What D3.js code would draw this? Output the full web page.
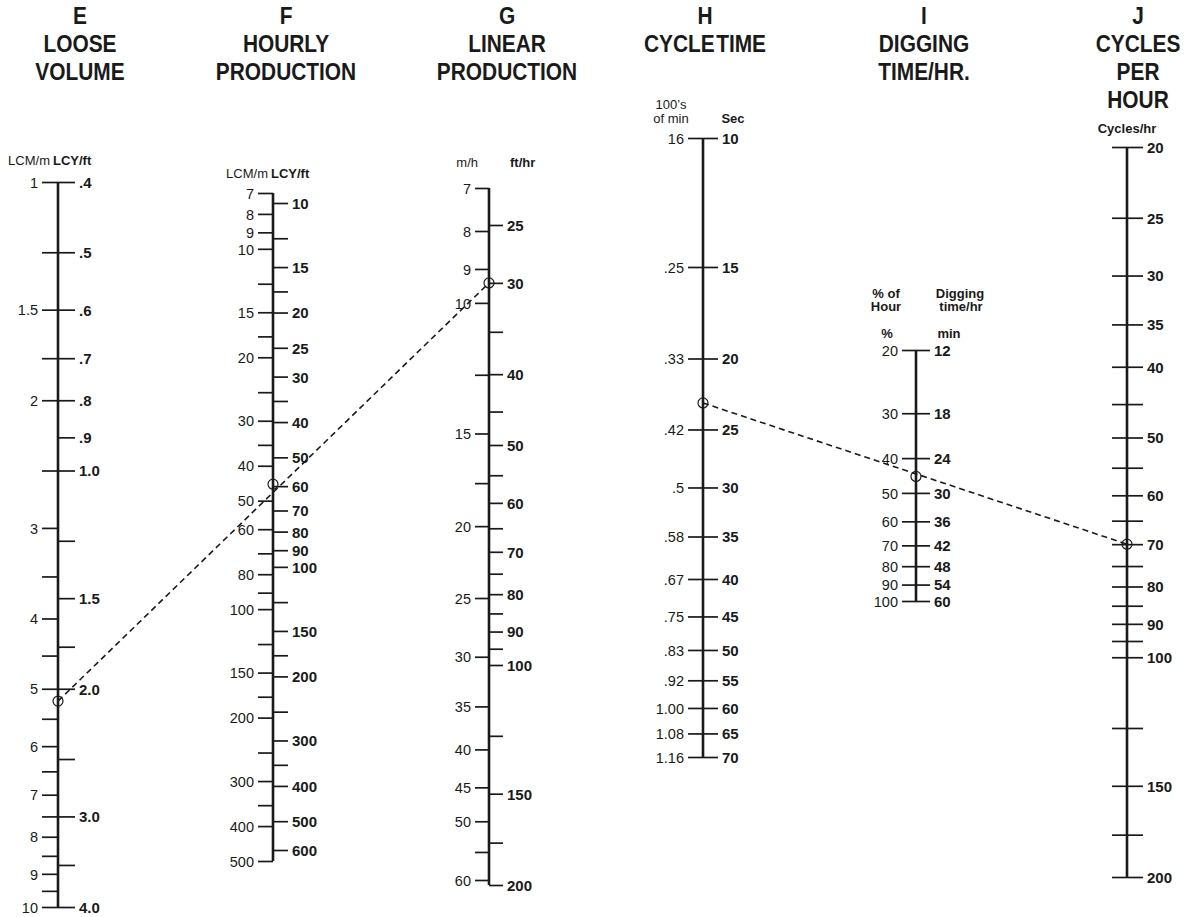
<!DOCTYPE html>
<html>
<head>
<meta charset="utf-8">
<script src="https://cdn.jsdelivr.net/npm/d3@7"></script>
<style>
  body { margin: 0; background: #fff; }
  text { fill: #1a1a1a; }
</style>
</head>
<body>
<svg id="chart" width="1185" height="917"></svg>
<script>

// ---- scale values ----

// E loose volume
const eLcmTicks = [1, 1.25, 1.5, 1.75, 2, 2.5, 3, 3.5, 4, 4.5, 5, 5.5, 6, 6.5, 7, 7.5, 8, 8.5, 9, 9.5, 10];
const eLcmLabels = ["1", "", "1.5", "", "2", "", "3", "", "4", "", "5", "", "6", "", "7", "", "8", "", "9", "", "10"];
const eLcyTicks = [0.4, 0.5, 0.6, 0.7, 0.8, 0.9, 1.0, 1.25, 1.5, 1.75, 2.0, 2.5, 3.0, 3.5, 4.0];
const eLcyLabels = [".4", ".5", ".6", ".7", ".8", ".9", "1.0", "", "1.5", "", "2.0", "", "3.0", "", "4.0"];

// F hourly production
const fLcmTicks = [7, 8, 9, 10, 12.5, 15, 17.5, 20, 25, 30, 35, 40, 50, 60, 70, 80, 90, 100, 125, 150, 175, 200, 250, 300, 350, 400, 500];
const fLcmLabels = ["7", "8", "9", "10", "", "15", "", "20", "", "30", "", "40", "50", "60", "", "80", "", "100", "", "150", "", "200", "", "300", "", "400", "500"];
const fLcyTicks = [10, 12.5, 15, 17.5, 20, 25, 30, 35, 40, 50, 60, 70, 80, 90, 100, 125, 150, 175, 200, 250, 300, 350, 400, 500, 600];
const fLcyLabels = ["10", "", "15", "", "20", "25", "30", "", "40", "50", "60", "70", "80", "90", "100", "", "150", "", "200", "", "300", "", "400", "500", "600"];

// G linear production
const gMhTicks = [7, 8, 9, 10, 12.5, 15, 17.5, 20, 25, 30, 35, 40, 45, 50, 55, 60];
const gMhLabels = ["7", "8", "9", "10", "", "15", "", "20", "25", "30", "35", "40", "45", "50", "", "60"];
const gFtTicks = [25, 30, 35, 40, 45, 50, 55, 60, 65, 70, 75, 80, 85, 90, 95, 100, 125, 150, 175, 200];
const gFtLabels = ["25", "30", "", "40", "", "50", "", "60", "", "70", "", "80", "", "90", "", "100", "", "150", "", "200"];

// H cycle time
const hSecTicks = [10, 15, 20, 25, 30, 35, 40, 45, 50, 55, 60, 65, 70];
const hSecLabels = ["10", "15", "20", "25", "30", "35", "40", "45", "50", "55", "60", "65", "70"];
const hMinLabels = ["16", ".25", ".33", ".42", ".5", ".58", ".67", ".75", ".83", ".92", "1.00", "1.08", "1.16"];

// I digging time per hour
const iPctTicks = [20, 30, 40, 50, 60, 70, 80, 90, 100];
const iPctLabels = ["20", "30", "40", "50", "60", "70", "80", "90", "100"];
const iMinLabels = ["12", "18", "24", "30", "36", "42", "48", "54", "60"];

// J cycles per hour
const jCycleTicks = [20, 25, 30, 35, 40, 45, 50, 55, 60, 65, 70, 75, 80, 85, 90, 95, 100, 125, 150, 175, 200];
const jCycleLabels = ["20", "25", "30", "35", "40", "", "50", "", "60", "", "70", "", "80", "", "90", "", "100", "", "150", "", "200"];

// worked example (key lines)
const example1 = [5.2, 45, 9.4];   // E LCM/m, F LCM/h, G m/h
const example2 = [23, 45, 70];     // H sec, I %, J cycles/hr

const headers = [
  ["E", "LOOSE", "VOLUME"],
  ["F", "HOURLY", "PRODUCTION"],
  ["G", "LINEAR", "PRODUCTION"],
  ["H", "CYCLE TIME"],
  ["I", "DIGGING", "TIME/HR."],
  ["J", "CYCLES", "PER", "HOUR"]
];

// ---- layout ----
const svg = d3.select("#chart");
const INK = "#1a1a1a";
const FONT = "'Liberation Sans', Arial, Helvetica, sans-serif";

// one entry per nomograph column
const cols = [
  { x: 58,   headX: 80,
    left:  { ticks: eLcmTicks, labels: eLcmLabels, range: [182, 907], size: 16 },
    right: { ticks: eLcyTicks, labels: eLcyLabels, range: [182, 907], size: 17 } },
  { x: 273,  headX: 286,
    left:  { ticks: fLcmTicks, labels: fLcmLabels, range: [193, 861], size: 15 },
    right: { ticks: fLcyTicks, labels: fLcyLabels, range: [203, 850], size: 15 } },
  { x: 489,  headX: 507,
    left:  { ticks: gMhTicks, labels: gMhLabels, range: [188, 880], size: 14 },
    right: { ticks: gFtTicks, labels: gFtLabels, range: [225, 885], size: 14 } },
  { x: 703,  headX: 705,
    left:  { ticks: hSecTicks, labels: hMinLabels, range: [138, 757], size: 15 },
    right: { ticks: hSecTicks, labels: hSecLabels, range: [138, 757], size: 15 } },
  { x: 916,  headX: 924,
    left:  { ticks: iPctTicks, labels: iPctLabels, range: [350, 601], size: 14 },
    right: { ticks: iPctTicks, labels: iMinLabels, range: [350, 601], size: 14 } },
  { x: 1127, headX: 1138,
    left:  { ticks: jCycleTicks, labels: jCycleTicks.map(() => ""), range: [147, 877], size: 15 },
    right: { ticks: jCycleTicks, labels: jCycleLabels, range: [147, 877], size: 16 } }
];

// build a log scale for each side from its own tick extent
cols.forEach(c => {
  ["left", "right"].forEach(side => {
    const s = c[side];
    s.scale = d3.scaleLog().domain(d3.extent(s.ticks)).range(s.range);
  });
});

function drawColumn(c) {
  const g = svg.append("g").attr("transform", "translate(" + c.x + ",0)");

  // left side: regular weight labels
  const lmap = new Map(c.left.ticks.map((t, i) => [t, c.left.labels[i]]));
  g.append("g")
    .call(d3.axisLeft(c.left.scale)
      .tickValues(c.left.ticks)
      .tickFormat(d => lmap.get(d))
      .tickSize(c.left.size)
      .tickPadding(4))
    .call(a => a.select(".domain").remove())
    .attr("font-family", FONT)
    .attr("font-size", 14.5)
    .call(a => a.selectAll("line").attr("stroke", INK).attr("stroke-width", 1.7))
    .call(a => a.selectAll("text").attr("fill", INK).attr("dy", "0.36em"));

  // right side: bold labels
  const rmap = new Map(c.right.ticks.map((t, i) => [t, c.right.labels[i]]));
  g.append("g")
    .call(d3.axisRight(c.right.scale)
      .tickValues(c.right.ticks)
      .tickFormat(d => rmap.get(d))
      .tickSize(c.right.size)
      .tickPadding(4))
    .call(a => a.select(".domain").remove())
    .attr("font-family", FONT)
    .attr("font-size", 15)
    .attr("font-weight", "bold")
    .call(a => a.selectAll("line").attr("stroke", INK).attr("stroke-width", 1.7))
    .call(a => a.selectAll("text").attr("fill", INK).attr("dy", "0.36em"));

  // the spine
  const top = Math.min(c.left.range[0], c.right.range[0]);
  const bot = Math.max(c.left.range[1], c.right.range[1]);
  g.append("line")
    .attr("x1", 0).attr("x2", 0)
    .attr("y1", top).attr("y2", bot)
    .attr("stroke", INK)
    .attr("stroke-width", 2.6);
}

cols.forEach(drawColumn);

// column headers (condensed look: squeeze horizontally)
headers.forEach((lines, i) => {
  svg.append("text")
    .attr("transform", "translate(" + cols[i].headX + ",0) scale(0.87,1)")
    .attr("y", 24)
    .attr("text-anchor", "middle")
    .attr("font-family", FONT)
    .attr("font-weight", "bold")
    .attr("font-size", 24)
    .attr("word-spacing", -5)
    .selectAll("tspan")
    .data(lines)
    .enter().append("tspan")
      .attr("x", 0)
      .attr("dy", (d, j) => j === 0 ? 0 : 28)
      .text(d => d);
});

// unit captions above each scale
const units = [
  { x: 50,   y: 165, t: "LCM/m",     a: "end",    b: false },
  { x: 53,   y: 165, t: "LCY/ft",    a: "start",  b: true },
  { x: 268,  y: 178, t: "LCM/m",     a: "end",    b: false },
  { x: 271,  y: 178, t: "LCY/ft",    a: "start",  b: true },
  { x: 478,  y: 167, t: "m/h",       a: "end",    b: false },
  { x: 510,  y: 167, t: "ft/hr",     a: "start",  b: true },
  { x: 671,  y: 109, t: "100\u2019s", a: "middle", b: false },
  { x: 671,  y: 123, t: "of min",    a: "middle", b: false },
  { x: 733,  y: 123, t: "Sec",       a: "middle", b: true },
  { x: 886,  y: 298, t: "% of",      a: "middle", b: true },
  { x: 886,  y: 311, t: "Hour",      a: "middle", b: true },
  { x: 960,  y: 298, t: "Digging",   a: "middle", b: true },
  { x: 961,  y: 311, t: "time/hr",   a: "middle", b: true },
  { x: 887,  y: 338, t: "%",         a: "middle", b: true },
  { x: 949,  y: 338, t: "min",       a: "middle", b: true },
  { x: 1127, y: 133, t: "Cycles/hr", a: "middle", b: true }
];

svg.append("g")
  .selectAll("text")
  .data(units)
  .enter().append("text")
    .attr("x", d => d.x)
    .attr("y", d => d.y)
    .attr("text-anchor", d => d.a)
    .attr("font-family", FONT)
    .attr("font-size", 13)
    .attr("font-weight", d => d.b ? "bold" : "normal")
    .text(d => d.t);

// key lines through the worked example
function keyLine(colIdx, values) {
  const pts = values.map((v, i) => {
    const c = cols[colIdx[i]];
    return [c.x, c.left.scale(v)];
  });
  svg.append("line")
    .attr("x1", pts[0][0]).attr("y1", pts[0][1])
    .attr("x2", pts[pts.length - 1][0]).attr("y2", pts[pts.length - 1][1])
    .attr("stroke", INK)
    .attr("stroke-width", 1.6)
    .attr("stroke-dasharray", "6,4");
  svg.append("g")
    .selectAll("circle")
    .data(pts)
    .enter().append("circle")
      .attr("cx", d => d[0])
      .attr("cy", d => d[1])
      .attr("r", 5)
      .attr("fill", "none")
      .attr("stroke", INK)
      .attr("stroke-width", 1.2);
}

keyLine([0, 1, 2], example1);
keyLine([3, 4, 5], example2);

</script>
</body>
</html>
